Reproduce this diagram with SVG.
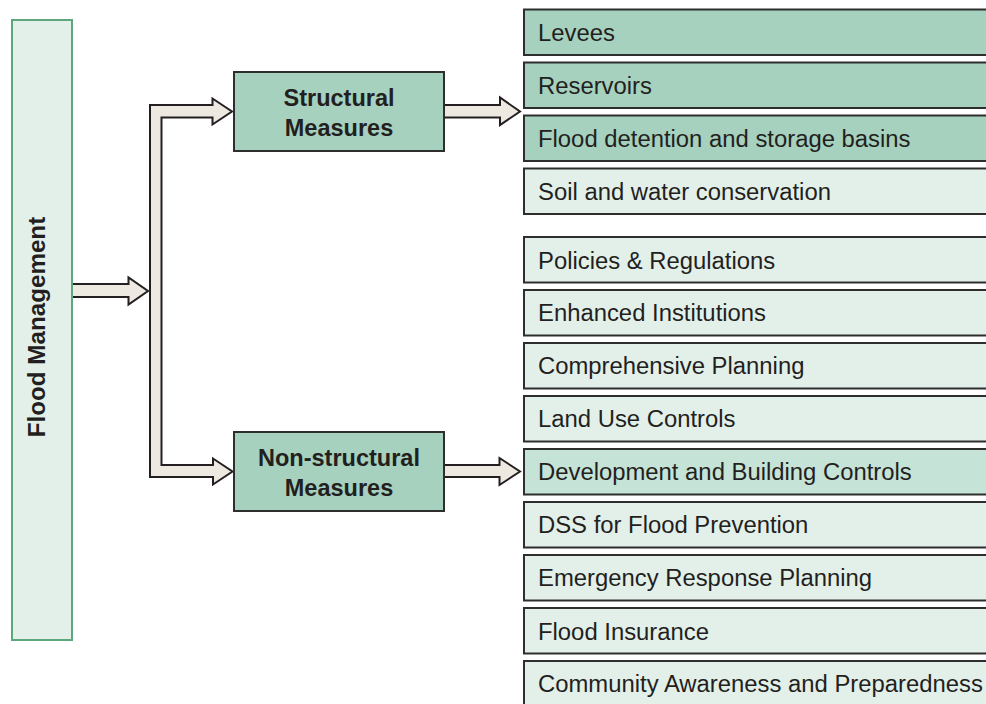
<svg xmlns="http://www.w3.org/2000/svg" width="986" height="704" viewBox="0 0 986 704">
  <style>
    .root { fill: #e3f0ea; stroke: #5da77c; stroke-width: 2; }
    .mid { fill: #a5d1be; stroke: #2e2e2e; stroke-width: 2; }
    .dark { fill: #a5d1be; stroke: #2e2e2e; stroke-width: 2; }
    .light { fill: #e3f0ea; stroke: #2e2e2e; stroke-width: 2; }
    .accent { fill: #c5e3d6; stroke: #2e2e2e; stroke-width: 2; }
    .arrow { fill: #ede9e1; stroke: #231f20; stroke-width: 2; stroke-linejoin: miter; }
    .title { font-family: "Liberation Sans", Arial, sans-serif; font-weight: bold; font-size: 23.5px; fill: #231f20; }
    .vtitle { font-size: 24.2px; }
    .item { font-family: "Liberation Sans", Arial, sans-serif; font-size: 23.85px; fill: #231f20; }
  </style>
  <rect width="986" height="704" fill="#ffffff"/>

  <!-- block arrows -->
  <g id="connectors">
    <path class="arrow" d="M72 284 H128.5 V277.5 L148 291 L128.5 304.5 V297 H72 Z"/>
    <path class="arrow" d="M150 105 H212.5 V98.5 L232 111.5 L212.5 124.5 V117.5 H161.5 V465 H213 V458.5 L232.5 471.5 L213 484.5 V477 H150 Z"/>
    <path class="arrow" d="M444 105 H500 V97.5 L520 111.5 L500 125 V117.5 H444 Z"/>
    <path class="arrow" d="M444 465 H499.5 V458 L520 471.5 L499.5 485 V477 H444 Z"/>
  </g>

  <g id="flood-management">
    <rect class="root" x="12" y="20" width="60" height="620"/>
    <text class="title vtitle" transform="translate(45 327) rotate(-90)" text-anchor="middle">Flood Management</text>
  </g>

  <g id="structural">
    <rect class="mid" x="234" y="72" width="210" height="79"/>
    <text class="title" x="339" y="106" text-anchor="middle">Structural</text>
    <text class="title" x="339" y="136" text-anchor="middle">Measures</text>
  </g>

  <g id="non-structural">
    <rect class="mid" x="234" y="432" width="210" height="79"/>
    <text class="title" x="339" y="466" text-anchor="middle">Non-structural</text>
    <text class="title" x="339" y="496" text-anchor="middle">Measures</text>
  </g>

  <!-- structural measures list -->
  <g id="levees">
    <rect class="dark" x="524" y="9.5" width="480" height="45.5"/>
    <text class="item" x="538" y="41">Levees</text>
  </g>
  <g id="reservoirs">
    <rect class="dark" x="524" y="62.5" width="480" height="45.5"/>
    <text class="item" x="538" y="94">Reservoirs</text>
  </g>
  <g id="detention-basins">
    <rect class="dark" x="524" y="115.5" width="480" height="45.5"/>
    <text class="item" x="538" y="146.5">Flood detention and storage basins</text>
  </g>
  <g id="soil-water">
    <rect class="light" x="524" y="168.5" width="480" height="45.5"/>
    <text class="item" x="538" y="199.5">Soil and water conservation</text>
  </g>

  <!-- non-structural measures list -->
  <g id="policies">
    <rect class="light" x="524" y="237" width="480" height="45.5"/>
    <text class="item" x="538" y="268.5">Policies &amp; Regulations</text>
  </g>
  <g id="institutions">
    <rect class="light" x="524" y="290" width="480" height="45.5"/>
    <text class="item" x="538" y="321">Enhanced Institutions</text>
  </g>
  <g id="planning">
    <rect class="light" x="524" y="343" width="480" height="45.5"/>
    <text class="item" x="538" y="374">Comprehensive Planning</text>
  </g>
  <g id="land-use">
    <rect class="light" x="524" y="396" width="480" height="45.5"/>
    <text class="item" x="538" y="427">Land Use Controls</text>
  </g>
  <g id="building-controls">
    <rect class="accent" x="524" y="449" width="480" height="45.5"/>
    <text class="item" x="538" y="480">Development and Building Controls</text>
  </g>
  <g id="dss">
    <rect class="light" x="524" y="502" width="480" height="45.5"/>
    <text class="item" x="538" y="533">DSS for Flood Prevention</text>
  </g>
  <g id="emergency">
    <rect class="light" x="524" y="555" width="480" height="45.5"/>
    <text class="item" x="538" y="586">Emergency Response Planning</text>
  </g>
  <g id="insurance">
    <rect class="light" x="524" y="608" width="480" height="45.5"/>
    <text class="item" x="538" y="639.5">Flood Insurance</text>
  </g>
  <g id="community">
    <rect class="light" x="524" y="661" width="480" height="60"/>
    <text class="item" x="538" y="692">Community Awareness and Preparedness</text>
  </g>
</svg>
